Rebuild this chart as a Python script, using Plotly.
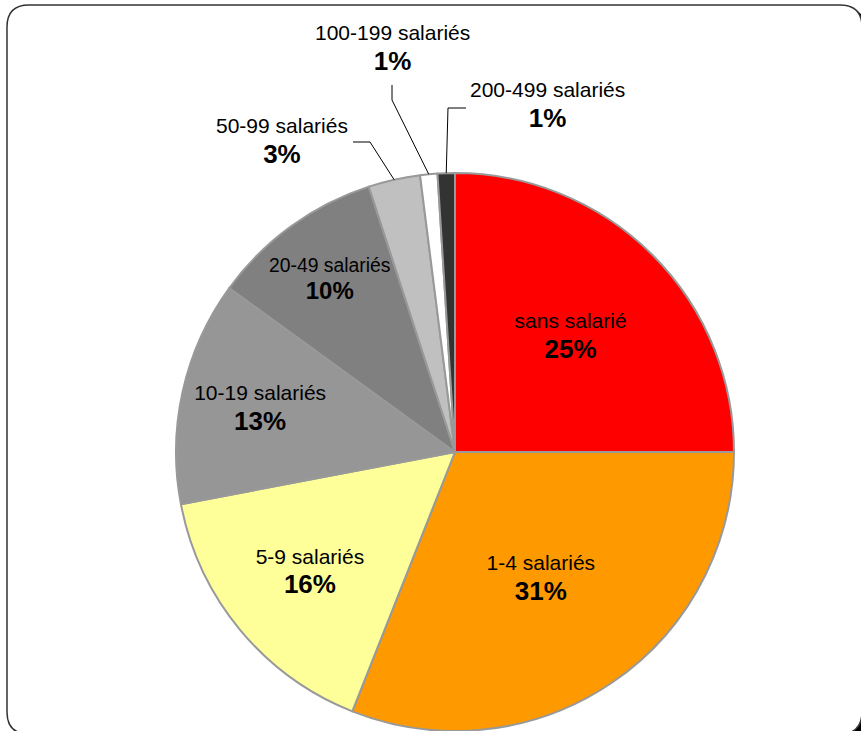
import math
import plotly.graph_objs as go

labels = ['sans salarié', '1-4 salariés', '5-9 salariés', '10-19 salariés', '20-49 salariés',
          '50-99 salariés', '100-199 salariés', '200-499 salariés']
values = [25, 31, 16, 13, 10, 3, 1, 1]
colors = ['#FF0000', '#FF9900', '#FFFF99', '#969696', '#808080', '#C0C0C0', '#FFFFFF', '#333333']
outside = ['50-99 salariés', '100-199 salariés', '200-499 salariés']

W, H = 861, 731
# pie geometry in pixels
cx, cy, r = 455, 452, 279


def px(x):
    return x / W


def py(y):
    return 1 - y / H


def label_text(name, v):
    return ("<span style='font-size:21px'>" + name + "</span><br>"
            "<span style='font-size:26px'><b>" + str(v) + "%</b></span>")


text = ['' if l in outside else label_text(l, v) for l, v in zip(labels, values)]

pie = go.Pie(labels=labels, values=values, sort=False, direction='clockwise', rotation=0,
             marker=dict(colors=colors, line=dict(color='#999999', width=2)),
             text=text, textinfo='text', textposition='inside', insidetextorientation='horizontal',
             textfont=dict(family='Liberation Sans, Arial', size=23, color='black'),
             hoverinfo='label+percent', showlegend=False,
             domain=dict(x=[px(cx - r), px(cx + r)], y=[0, (H - cy + r) / H]))


def rounded(x0, y0, x1, y1, rad):
    p = 'M %f,%f ' % (px(x0 + rad), py(y0))
    p += 'L %f,%f ' % (px(x1 - rad), py(y0))
    p += 'Q %f,%f %f,%f ' % (px(x1), py(y0), px(x1), py(y0 + rad))
    p += 'L %f,%f ' % (px(x1), py(y1 - rad))
    p += 'Q %f,%f %f,%f ' % (px(x1), py(y1), px(x1 - rad), py(y1))
    p += 'L %f,%f ' % (px(x0 + rad), py(y1))
    p += 'Q %f,%f %f,%f ' % (px(x0), py(y1), px(x0), py(y1 - rad))
    p += 'L %f,%f ' % (px(x0), py(y0 + rad))
    p += 'Q %f,%f %f,%f Z' % (px(x0), py(y0), px(x0 + rad), py(y0))
    return p


shapes = [
    dict(type='path', xref='paper', yref='paper', layer='below', path=rounded(10, 8, 866, 738, 22),
         fillcolor='black', line=dict(width=0)),
    dict(type='path', xref='paper', yref='paper', layer='below', path=rounded(7, 5, 862, 734, 22),
         fillcolor='white', line=dict(color='#333333', width=1.5)),
]

# small slices: labels placed outside with leader lines to the slice middle
lab_pos = {'50-99 salariés': (282, 141), '100-199 salariés': (392, 48), '200-499 salariés': (547, 106)}
elbows = {'50-99 salariés': [(353, 142), (370, 142)],
          '100-199 salariés': [(392, 85), (392, 100)],
          '200-499 salariés': [(466, 108), (448, 108)]}

annotations = []
total = sum(values)
cum = 0
for l, v in zip(labels, values):
    mid = (cum + v / 2) / total * 2 * math.pi
    cum += v
    if l not in outside:
        continue
    ex, ey = cx + r * math.sin(mid), cy - r * math.cos(mid)
    lx, ly = lab_pos[l]
    annotations.append(dict(xref='paper', yref='paper', x=px(lx), y=py(ly), showarrow=False,
                            text=label_text(l, v), xanchor='center', yanchor='middle',
                            font=dict(family='Liberation Sans, Arial', size=23, color='black')))
    pts = elbows[l] + [(ex, ey)]
    path = 'M ' + ' L '.join('%f,%f' % (px(a), py(b)) for a, b in pts)
    shapes.append(dict(type='path', xref='paper', yref='paper', path=path,
                       line=dict(color='black', width=1)))

layout = go.Layout(width=W, height=H, margin=dict(l=0, r=0, t=0, b=0),
                   paper_bgcolor='white', plot_bgcolor='white',
                   shapes=shapes, annotations=annotations)
fig = go.Figure(data=[pie], layout=layout)
fig.write_html('out.html', config={'displayModeBar': False},
               post_script="document.body.style.margin='0';")
